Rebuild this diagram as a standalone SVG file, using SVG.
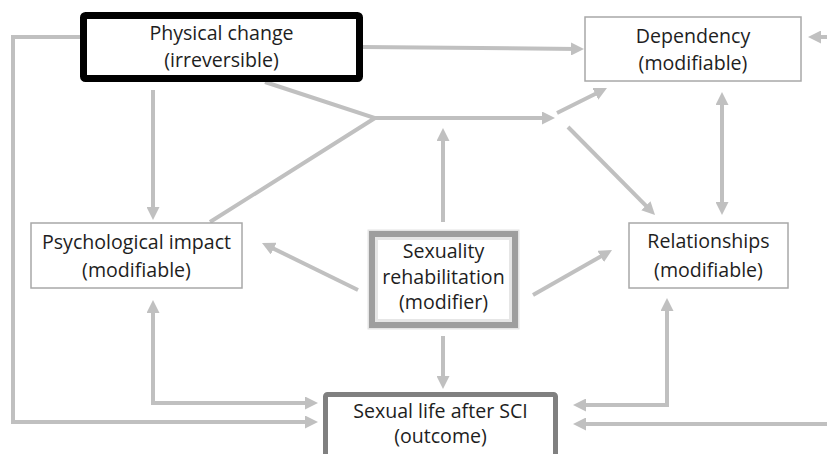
<svg xmlns="http://www.w3.org/2000/svg" width="827" height="454" viewBox="0 0 827 454">
<style>
.t{font-family:"Open Sans","Liberation Sans",sans-serif;font-size:19.6px;fill:#1e1e1e;text-anchor:middle}
.c{fill:none;stroke:#c0c0c0;stroke-width:4}
.m{fill:#fff;stroke:#a8a8a8;stroke-width:1.5}
</style>
<defs>
<marker id="a" viewBox="0 0 13 13" refX="7" refY="6.5" markerWidth="13" markerHeight="13" markerUnits="userSpaceOnUse" orient="auto-start-reverse">
<path d="M0,0 L13,6.5 L0,13 Z" fill="#c0c0c0"/>
</marker>
</defs>
<rect width="827" height="454" fill="#fff"/>
<g id="connectors">
<path class="c" d="M80,37 H13 V422 H312" marker-end="url(#a)"/>
<path class="c" d="M362,47 L578,49" marker-end="url(#a)"/>
<path class="c" d="M827,37 H814" marker-end="url(#a)"/>
<path class="c" d="M265,82 L375,118 L210,222"/>
<path class="c" d="M375,118 H549" marker-end="url(#a)"/>
<path class="c" d="M557,113 L601.6,90.7" marker-end="url(#a)"/>
<path class="c" d="M568,127 L650.8,210.7" marker-end="url(#a)"/>
<path class="c" d="M153,90 V214" marker-end="url(#a)"/>
<path class="c" d="M443,222 V134" marker-end="url(#a)"/>
<path class="c" d="M358,290 L267.4,245.6" marker-end="url(#a)"/>
<path class="c" d="M533,295 L606.8,253" marker-end="url(#a)"/>
<path class="c" d="M722,98 V209" marker-start="url(#a)" marker-end="url(#a)"/>
<path class="c" d="M443,336 V383" marker-end="url(#a)"/>
<path class="c" d="M153,306 V403 H312" marker-start="url(#a)" marker-end="url(#a)"/>
<path class="c" d="M667,304 V405 H579" marker-start="url(#a)" marker-end="url(#a)"/>
<path class="c" d="M827,424 H579" marker-end="url(#a)"/>
</g>
<g id="physical">
<rect x="83.5" y="15.5" width="276" height="63" rx="2" fill="#fff" stroke="#000" stroke-width="7"/>
<text class="t" x="221.5" y="40">Physical change</text>
<text class="t" x="221.5" y="67">(irreversible)</text>
</g>
<g id="dependency">
<rect class="m" x="585" y="17" width="216" height="64"/>
<text class="t" x="693" y="43">Dependency</text>
<text class="t" x="693" y="70">(modifiable)</text>
</g>
<g id="psychological">
<rect class="m" x="31" y="223" width="211" height="65"/>
<text class="t" x="136.5" y="249">Psychological impact</text>
<text class="t" x="136.5" y="277">(modifiable)</text>
</g>
<g id="relationships">
<rect class="m" x="629" y="223" width="159" height="65"/>
<text class="t" x="708.5" y="248">Relationships</text>
<text class="t" x="708.5" y="277">(modifiable)</text>
</g>
<g id="rehabilitation">
<rect x="369" y="231" width="149" height="97" fill="none" stroke="#e4e4e4" stroke-width="3"/>
<rect x="372" y="234" width="143" height="91" fill="#fff" stroke="#9e9e9e" stroke-width="6"/>
<rect x="376.5" y="238.5" width="134" height="82" fill="none" stroke="#e6e6e6" stroke-width="3"/>
<text class="t" x="443.5" y="258">Sexuality</text>
<text class="t" x="443.5" y="284">rehabilitation</text>
<text class="t" x="443.5" y="309">(modifier)</text>
</g>
<g id="outcome">
<rect x="325.5" y="394.5" width="230" height="80" rx="2" fill="#fff" stroke="#808080" stroke-width="5"/>
<text class="t" x="440.5" y="418">Sexual life after SCI</text>
<text class="t" x="440.5" y="443">(outcome)</text>
</g>
</svg>
